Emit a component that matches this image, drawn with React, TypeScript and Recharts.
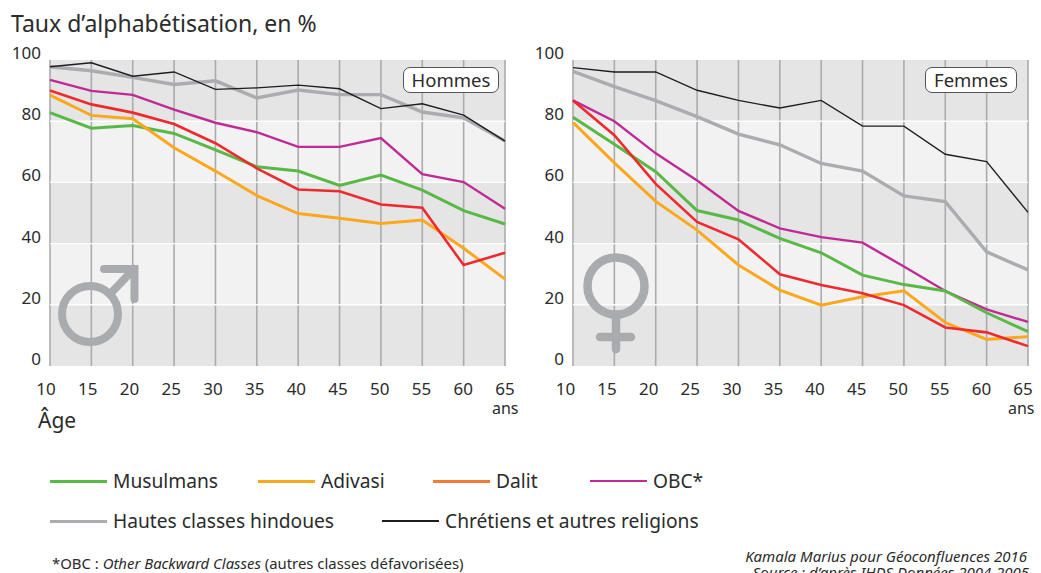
import React from "react";
import { LineChart, Line, XAxis, YAxis, ReferenceArea, ReferenceLine } from "recharts";

const ages = [10, 15, 20, 25, 30, 35, 40, 45, 50, 55, 60, 65];
const yTicks = [0, 20, 40, 60, 80, 100];

const menMusulmans = [82.8, 77.7, 78.6, 76, 70.6, 65.1, 63.7, 59, 62.4, 57.5, 50.8, 46.4];
const menAdivasi = [88.5, 81.9, 80.8, 71.3, 63.7, 55.7, 49.8, 48.3, 46.6, 47.7, 38.5, 28.4];
const menDalit = [90, 85.5, 82.8, 79.1, 72.8, 64.6, 57.7, 57.1, 52.8, 51.7, 33, 37];
const menOBC = [93.5, 89.9, 88.6, 83.8, 79.5, 76.4, 71.6, 71.6, 74.5, 62.7, 60.1, 51.4];
const menHautes = [97.8, 96.5, 94.3, 92, 93.2, 87.6, 90.2, 88.7, 88.7, 83, 81.1, 73.5];
const menChretiens = [97.8, 99.1, 94.7, 96.1, 90.4, 90.9, 91.8, 90.6, 84.1, 85.7, 82, 73.5];

const womenMusulmans = [81.3, 72.5, 63.5, 50.8, 47.7, 41.7, 37, 29.7, 26.6, 24.5, 17.4, 11.2];
const womenAdivasi = [79.6, 66.4, 53.8, 44.4, 33, 24.8, 19.9, 22.6, 24.6, 14.2, 8.7, 9.6];
const womenDalit = [86.8, 75.4, 59.5, 47.1, 41.4, 30, 26.5, 23.8, 19.9, 12.6, 11, 6.5];
const womenOBC = [86.8, 80, 69.5, 60.6, 50.7, 45, 42.1, 40.3, 32.5, 24.5, 18.5, 14.4];
const womenHautes = [96.3, 91.3, 86.7, 81.5, 75.8, 72.3, 66.2, 63.7, 55.6, 53.7, 37.3, 31.4];
const womenChretiens = [97.5, 96.1, 96.1, 90.1, 86.8, 84.3, 86.8, 78.4, 78.4, 69.2, 66.8, 50.2];

const seriesNames = ["Musulmans", "Adivasi", "Dalit", "OBC*", "Hautes classes hindoues", "Chrétiens et autres religions"];
const bandDark = [[80, 100], [40, 60], [0, 20]];
const bandLight = [[60, 80], [20, 40]];

const FONT = "'Noto Sans', 'Open Sans', sans-serif";
const TEXT = "#2b2b2b";
const GRAY = "#a9abae";

const styles: Record<string, { c: string; w: number }> = {
  Musulmans: { c: "#5ab946", w: 3 },
  Adivasi: { c: "#fba81f", w: 3 },
  Dalit: { c: "#ee2a2e", w: 2.6 },
  "OBC*": { c: "#bf2a96", w: 2.4 },
  "Hautes classes hindoues": { c: "#aaacaf", w: 3.4 },
  "Chrétiens et autres religions": { c: "#1e1e1e", w: 1.4 },
};

const zip = (arrs: number[][]) =>
  ages.map((a, i) => {
    const row: Record<string, number> = { age: a };
    seriesNames.forEach((n, k) => (row[n] = arrs[k][i]));
    return row;
  });

const menData = zip([menMusulmans, menAdivasi, menDalit, menOBC, menHautes, menChretiens]);
const womenData = zip([womenMusulmans, womenAdivasi, womenDalit, womenOBC, womenHautes, womenChretiens]);

const drawOrder = ["Hautes classes hindoues", "Chrétiens et autres religions", "OBC*", "Musulmans", "Adivasi", "Dalit"];

function Panel({ data, left, width, offA, offB }: { data: any[]; left: number; width: number; offA: number; offB: number }) {
  const marginL = 50;
  return (
    <div style={{ position: "absolute", left: left - marginL, top: 30 }}>
      <LineChart width={width + marginL + 12} height={400} data={data} margin={{ top: 30, right: 12, bottom: 0, left: 0 }}>
        <XAxis
          dataKey="age"
          type="number"
          domain={[10, 65]}
          ticks={ages}
          interval={0}
          axisLine={false}
          tickLine={false}
          height={64}
          tick={(p: any) => (
            <text x={p.x + offA + ((offB - offA) * (p.payload.value - 10)) / 55} y={p.y + 21} textAnchor="middle" fontSize={17} fill={TEXT} fontFamily={FONT}>
              {p.payload.value}
            </text>
          )}
        />
        <YAxis
          type="number"
          domain={[0, 100]}
          ticks={yTicks}
          interval={0}
          width={marginL}
          axisLine={false}
          tickLine={false}
          tick={(p: any) => (
            <text x={marginL - 9} y={p.y - 1} textAnchor="end" fontSize={17} fill={TEXT} fontFamily={FONT}>
              {p.payload.value}
            </text>
          )}
        />
        {bandDark.map(([a, b]) => (
          <ReferenceArea key={a} y1={a} y2={b} fill="#e5e5e5" fillOpacity={1} stroke="none" />
        ))}
        {bandLight.map(([a, b]) => (
          <ReferenceArea key={a} y1={a} y2={b} fill="#f2f2f2" fillOpacity={1} stroke="none" />
        ))}
        {ages.map((a) => (
          <ReferenceLine key={a} x={a} stroke={GRAY} strokeWidth={1.6} />
        ))}
        {[20, 40, 60, 80].map((v) => (
          <ReferenceLine key={v} y={v} stroke="#ffffff" strokeWidth={1.4} />
        ))}
        {drawOrder.map((n) => (
          <Line key={n} dataKey={n} type="linear" stroke={styles[n].c} strokeWidth={styles[n].w} dot={false} isAnimationActive={false} />
        ))}
      </LineChart>
    </div>
  );
}

function LegendItem({ name, x, y, len }: { name: string; x: number; y: number; len: number }) {
  const legendColor = name === "Dalit" ? "#f47b30" : styles[name].c;
  return (
    <>
      <div style={{ position: "absolute", left: x, top: y + 10, width: len, height: Math.max(styles[name].w, 1.5), background: legendColor }} />
      <div style={{ position: "absolute", left: x + len + 6, top: y - 3, fontSize: 19.2, color: TEXT, whiteSpace: "nowrap", fontFamily: FONT }}>{name}</div>
    </>
  );
}

const Badge = ({ text, x, w }: { text: string; x: number; w: number }) => (
  <div style={{ position: "absolute", left: x, top: 67, width: w, height: 26, boxSizing: "border-box", border: "1px solid #555", borderRadius: 7, background: "#fff", fontSize: 18.5, lineHeight: "24px", textAlign: "center", color: TEXT, fontFamily: FONT }}>{text}</div>
);

const MaleIcon = () => (
  <svg style={{ position: "absolute", left: 50, top: 255 }} width={100} height={100}>
    <g fill="none" stroke={GRAY} strokeWidth={8} strokeLinecap="round" strokeLinejoin="miter">
      <circle cx={40} cy={59} r={28} />
      <path d="M60 39 L84 14" />
      <path d="M54 14 L84.5 14 L84.5 44" />
    </g>
  </svg>
);

const FemaleIcon = () => (
  <svg style={{ position: "absolute", left: 575, top: 250 }} width={85} height={110}>
    <g fill="none" stroke={GRAY} strokeWidth={8.5} strokeLinecap="round">
      <circle cx={41} cy={36} r={28.5} />
      <path d="M41 65 L41 99" />
      <path d="M25 87 L56 87" />
    </g>
  </svg>
);

export default function App() {
  return (
    <div style={{ position: "absolute", left: 0, top: 0, width: 1041, height: 573, overflow: "hidden", fontFamily: FONT, color: TEXT, background: "#fff" }}>
      <div style={{ position: "absolute", left: 11, top: 7, fontSize: 23, whiteSpace: "nowrap" }}>Taux d’alphabétisation, en %</div>
      <Panel data={menData} left={50} width={455} offA={-4} offB={0} />
      <Panel data={womenData} left={573} width={455} offA={-7.5} offB={-5} />
      <MaleIcon />
      <FemaleIcon />
      <Badge text="Hommes" x={403} w={96} />
      <Badge text="Femmes" x={925} w={92} />
      <div style={{ position: "absolute", left: 492, top: 400, fontSize: 16, lineHeight: "16px" }}>ans</div>
      <div style={{ position: "absolute", left: 1008, top: 400, fontSize: 16, lineHeight: "16px" }}>ans</div>
      <div style={{ position: "absolute", left: 38, top: 406, fontSize: 21 }}>Âge</div>
      <LegendItem name="Musulmans" x={50} y={470} len={57} />
      <LegendItem name="Adivasi" x={258} y={470} len={57} />
      <LegendItem name="Dalit" x={433} y={470} len={57} />
      <LegendItem name="OBC*" x={590} y={470} len={57} />
      <LegendItem name="Hautes classes hindoues" x={50} y={510} len={57} />
      <LegendItem name="Chrétiens et autres religions" x={382} y={510} len={57} />
      <div style={{ position: "absolute", left: 52, top: 553, fontSize: 14.9, whiteSpace: "nowrap" }}>*OBC : <i>Other Backward Classes</i> (autres classes défavorisées)</div>
      <div style={{ position: "absolute", right: 14, top: 549, fontSize: 15, lineHeight: "15px", fontStyle: "italic", whiteSpace: "nowrap" }}>Kamala Marius pour Géoconfluences 2016</div>
      <div style={{ position: "absolute", right: 12, top: 565, fontSize: 15, lineHeight: "15px", fontStyle: "italic", whiteSpace: "nowrap" }}>Source : d’après IHDS Données 2004-2005</div>
    </div>
  );
}
